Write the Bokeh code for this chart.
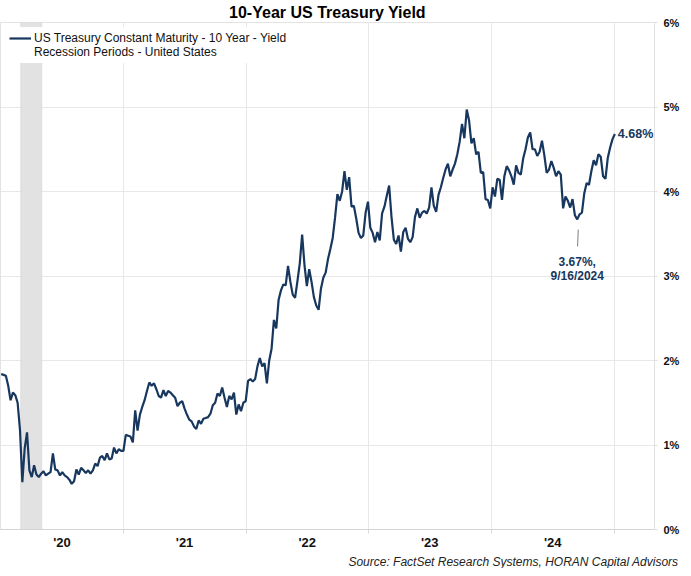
import pandas as pd
from bokeh.plotting import figure
from bokeh.models import (ColumnDataSource, Range1d, FixedTicker, CustomJSTickFormatter,
                          BoxAnnotation, Label, Segment, Title, Legend, LegendItem)
from bokeh.embed import file_html
from bokeh.resources import INLINE

# ---- data: weekly (Friday) 10-year Treasury yields, % ----
first_week = "2020-01-03"
yield_2020 = [1.84, 1.83, 1.82, 1.70, 1.53, 1.62, 1.59, 1.50, 1.18, 0.56, 0.96, 1.15, 0.70,
              0.62, 0.76, 0.65, 0.62, 0.66, 0.69, 0.64, 0.66, 0.68, 0.90, 0.71, 0.70, 0.64,
              0.68, 0.64, 0.62, 0.59, 0.54, 0.57, 0.71, 0.65, 0.73, 0.70, 0.67, 0.70, 0.66,
              0.70, 0.78, 0.75, 0.85, 0.87, 0.82, 0.90, 0.83, 0.84, 0.97, 0.90, 0.95, 0.93]
yield_2021 = [0.93, 1.12, 1.11, 1.10, 1.03, 1.41, 1.17, 1.36, 1.45, 1.53, 1.64, 1.74, 1.70,
              1.73, 1.66, 1.58, 1.56, 1.65, 1.58, 1.64, 1.62, 1.59, 1.56, 1.46, 1.50, 1.52,
              1.43, 1.36, 1.30, 1.28, 1.22, 1.19, 1.29, 1.25, 1.31, 1.32, 1.33, 1.37, 1.47,
              1.50, 1.61, 1.58, 1.68, 1.56, 1.45, 1.58, 1.54, 1.62, 1.36, 1.48, 1.40, 1.50,
              1.52]
yield_2022 = [1.76, 1.78, 1.75, 1.78, 1.93, 2.03, 1.93, 1.97, 1.73, 2.00, 2.14, 2.48, 2.38,
              2.72, 2.83, 2.90, 2.89, 3.12, 2.93, 2.78, 2.74, 2.94, 3.15, 3.49, 3.13, 2.88,
              3.08, 2.93, 2.75, 2.65, 2.60, 2.85, 2.98, 3.04, 3.20, 3.32, 3.45, 3.69, 3.97,
              3.89, 4.00, 4.24, 4.02, 4.17, 3.82, 3.83, 3.68, 3.51, 3.45, 3.48, 3.75, 3.88]
yield_2023 = [3.57, 3.51, 3.40, 3.52, 3.42, 3.74, 3.82, 3.95, 4.07, 3.70, 3.43, 3.38, 3.48,
              3.29, 3.52, 3.57, 3.44, 3.40, 3.46, 3.70, 3.80, 3.69, 3.75, 3.77, 3.74, 3.81,
              4.05, 3.83, 3.76, 3.96, 4.05, 4.16, 4.26, 4.33, 4.18, 4.26, 4.33, 4.44, 4.59,
              4.80, 4.63, 4.97, 4.84, 4.57, 4.63, 4.44, 4.47, 4.22, 4.23, 3.91, 3.90, 3.80]
yield_2024 = [4.05, 3.94, 4.15, 4.14, 3.90, 4.18, 4.30, 4.25, 4.18, 4.08, 4.31, 4.22, 4.20,
              4.39, 4.50, 4.64, 4.70, 4.50, 4.50, 4.42, 4.47, 4.60, 4.43, 4.22, 4.26, 4.36,
              4.28, 4.18, 4.24, 4.20, 3.80, 3.94, 3.89, 3.81, 3.91, 3.72, 3.67, 3.73, 3.75,
              3.98, 4.10, 4.08, 4.24, 4.37, 4.31, 4.44, 4.41, 4.18, 4.15, 4.40, 4.52, 4.62,
              4.68]

recession_start = "2020-03-01"
recession_end = "2020-05-03"
year_starts = ["2021-01-01", "2022-01-01", "2023-01-01", "2024-01-01", "2025-01-01"]
year_mids = ["2020-07-02", "2021-07-02", "2022-07-02", "2023-07-02", "2024-07-02"]
y_ticks = [0, 1, 2, 3, 4, 5, 6]
last_label = "4.68%"
low_date = "2024-09-16"
low_label_1 = "3.67%,"
low_label_2 = "9/16/2024"
source_note = "Source: FactSet Research Systems, HORAN Capital Advisors"

# ---- build ----
values = yield_2020 + yield_2021 + yield_2022 + yield_2023 + yield_2024
dates = pd.date_range(first_week, periods=len(values), freq="W-FRI")
src = ColumnDataSource(dict(date=dates, yld=values))


def ms(s):
    return pd.Timestamp(s).value / 1e6


DAY = 86400000
NAVY = "#17375E"
FONT = "Liberation Sans"

p = figure(width=682, height=568, x_axis_type="datetime", y_axis_location="right",
           x_range=Range1d(ms("2020-01-01"), ms("2025-05-01")),
           y_range=Range1d(0, 6), output_backend="svg", toolbar_location=None,
           min_border_left=0, min_border_top=0, min_border_right=0, min_border_bottom=0)

p.title.text = "10-Year US Treasury Yield"
p.title.align = "center"
p.title.text_font = FONT
p.title.text_font_size = "16px"
p.title.text_font_style = "bold"
p.title.text_color = "#000000"
p.title.standoff = 3

p.outline_line_color = "#E3E3E3"
p.background_fill_color = "white"
p.border_fill_color = "white"

# recession band
p.add_layout(BoxAnnotation(left=ms(recession_start), right=ms(recession_end),
                           fill_color="#E2E2E2", fill_alpha=1.0,
                           line_color="#C4C4C4", line_width=1, level="underlay"))

line = p.line("date", "yld", source=src, line_color=NAVY, line_width=2.2)
rec_dummy = p.scatter(x=[], y=[], marker="square", size=7, fill_color="#D6D6D6",
                      line_color="#D6D6D6")

# x axis: year labels centred in each year, ticks at year boundaries
xa = p.xaxis[0]
xa.ticker = FixedTicker(ticks=[ms(d) for d in year_mids],
                        minor_ticks=[ms(d) for d in year_starts])
xa.formatter = CustomJSTickFormatter(
    code="return \"'\" + String(new Date(tick).getUTCFullYear()).slice(2);")
xa.major_tick_out = 0
xa.major_tick_in = 0
xa.minor_tick_out = 4
xa.minor_tick_in = 0
xa.minor_tick_line_color = "#DADADA"
xa.axis_line_color = "#D4D4D4"
xa.major_label_text_font = FONT
xa.major_label_text_font_size = "13px"
xa.major_label_text_font_style = "bold"
xa.major_label_text_color = "#111111"
xa.major_label_standoff = 1

# y axis on the right
ya = p.yaxis[0]
ya.ticker = FixedTicker(ticks=y_ticks)
ya.formatter = CustomJSTickFormatter(code="return tick + '%';")
ya.axis_line_color = "#E0E0E0"
ya.major_tick_line_color = "#E0E0E0"
ya.major_tick_out = 3
ya.major_tick_in = 0
ya.minor_tick_line_color = None
ya.major_label_text_font = FONT
ya.major_label_text_font_size = "11px"
ya.major_label_text_font_style = "bold"
ya.major_label_text_color = "#111111"
ya.major_label_standoff = 6

p.xgrid.ticker = FixedTicker(ticks=[ms(d) for d in year_starts])
p.xgrid.grid_line_color = "#E8E8E8"
p.ygrid.grid_line_color = "#E8E8E8"

# legend
legend = Legend(items=[
    LegendItem(label="US Treasury Constant Maturity - 10 Year - Yield", renderers=[line]),
    LegendItem(label="Recession Periods - United States", renderers=[rec_dummy]),
], location="top_left")
legend.label_text_font = FONT
legend.label_text_font_size = "12px"
legend.label_text_color = "#111111"
legend.glyph_width = 22
legend.glyph_height = 12
legend.label_height = 12
legend.label_standoff = 3
legend.spacing = 0
legend.padding = 4
legend.margin = 5
legend.border_line_alpha = 0
legend.background_fill_color = "white"
legend.background_fill_alpha = 1.0
p.add_layout(legend)

# annotations
p.add_layout(Label(x=dates[-1], y=values[-1], text=last_label, x_offset=3,
                   text_baseline="middle", text_align="left", text_font=FONT,
                   text_font_size="12.5px", text_font_style="bold", text_color=NAVY))
seg_src = ColumnDataSource(dict(x0=[ms(low_date)], y0=[3.55], x1=[ms(low_date) - 2 * DAY],
                                y1=[3.35]))
p.add_glyph(seg_src, Segment(x0="x0", y0="y0", x1="x1", y1="y1", line_color="#7F7F7F",
                             line_width=1))
p.add_layout(Label(x=ms(low_date) - 3 * DAY, y=3.17, text=low_label_1,
                   text_baseline="middle", text_align="center", text_font=FONT,
                   text_font_size="12px", text_font_style="bold", text_color=NAVY))
p.add_layout(Label(x=ms(low_date) - 3 * DAY, y=3.00, text=low_label_2,
                   text_baseline="middle", text_align="center", text_font=FONT,
                   text_font_size="12px", text_font_style="bold", text_color=NAVY))

# source note, right-aligned under the chart
p.add_layout(Title(text=source_note, align="right", text_font=FONT, text_font_size="12px",
                   text_font_style="italic", text_color="#222222", offset=-24, standoff=0),
             "below")

open("out.html", "w").write(file_html(p, INLINE))
